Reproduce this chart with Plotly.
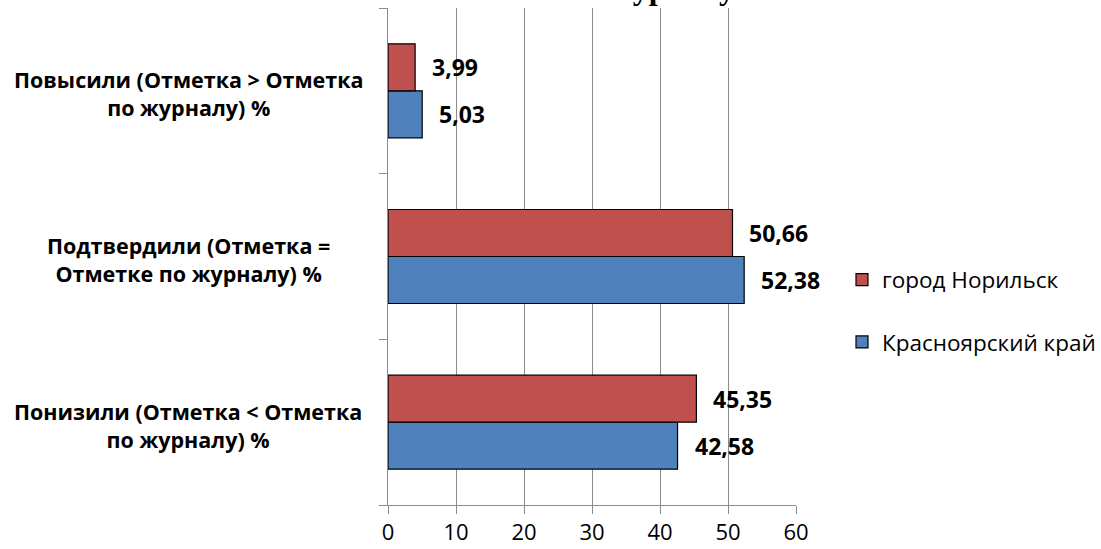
import plotly.graph_objects as go

# Categories listed bottom-to-top as they appear on the axis
categories = [
    "Понизили (Отметка < Отметка<br>по журналу) %",
    "Подтвердили (Отметка =<br>Отметке по журналу) %",
    "Повысили (Отметка > Отметка<br>по журналу) %",
]
series_names = ["Красноярский край", "город Норильск"]
kray_values = [42.58, 52.38, 5.03]
norilsk_values = [45.35, 50.66, 3.99]
x_ticks = [0, 10, 20, 30, 40, 50, 60]
title_text = "по журналу"

colors = {"Красноярский край": "#4F81BD", "город Норильск": "#C0504D"}
series_values = {"Красноярский край": kray_values, "город Норильск": norilsk_values}
legend_rank = {"Красноярский край": 2, "город Норильск": 1}

W, H = 1101, 549
L, R, T, B = 388, 305, 8, 44
plot_w = W - L - R
plot_h = H - T - B
bar_px = 47  # thickness of one bar in pixels

fig = go.Figure()
for name in series_names:
    fig.add_trace(go.Bar(
        y=categories,
        x=series_values[name],
        name=name,
        orientation="h",
        legendgroup=name,
        legendrank=legend_rank[name],
        marker=dict(color=colors[name], line=dict(color="#000000", width=1.2)),
        hoverinfo="x+name",
    ))

annotations = []
# value labels to the right of each bar
for idx, name in enumerate(series_names):
    shift = -bar_px / 2 if idx == 0 else bar_px / 2
    for cat, v in zip(categories, series_values[name]):
        annotations.append(dict(
            x=v, y=cat, xref="x", yref="y",
            text=f"{v:.2f}".replace(".", ","),
            showarrow=False, xanchor="left", yanchor="middle",
            xshift=15, yshift=shift,
            font=dict(family="Open Sans", size=23, color="#000000", weight="bold"),
        ))

# category labels, centred in the left margin
for cat in categories:
    annotations.append(dict(
        x=(188 - L) / plot_w, y=cat, xref="paper", yref="y",
        text=f"<b>{cat}</b>", showarrow=False,
        xanchor="center", yanchor="middle", align="center", yshift=-3,
        font=dict(family="Open Sans", size=21.5, color="#000000"),
    ))

# chart title (sits above the visible area)
annotations.append(dict(
    x=(737 - L) / plot_w, y=1, xref="paper", yref="paper",
    text=f"<b>{title_text}</b>", showarrow=False,
    xanchor="right", yanchor="bottom", yshift=0,
    font=dict(family="Liberation Serif", size=32, color="#000000"),
))

fig.update_layout(
    width=W, height=H,
    margin=dict(l=L, r=R, t=T, b=B, autoexpand=False),
    paper_bgcolor="#FFFFFF", plot_bgcolor="#FFFFFF",
    barmode="group", bargap=1 - 2 * bar_px / (plot_h / 3), bargroupgap=0,
    showlegend=True,
    legend=dict(
        x=(842 - L) / plot_w, xanchor="left",
        y=(H - B - 311) / plot_h, yanchor="middle",
        traceorder="grouped", tracegroupgap=30,
        font=dict(family="Open Sans", size=22.5, color="#000000"),
        bgcolor="rgba(0,0,0,0)",
    ),
    annotations=annotations,
)

fig.update_xaxes(
    range=[0, 60], tickvals=x_ticks, ticktext=[str(t) for t in x_ticks],
    showgrid=True, gridcolor="#8C8C8C", gridwidth=1,
    showline=True, linecolor="#8C8C8C", linewidth=1,
    ticks="outside", ticklen=8, tickcolor="#8C8C8C",
    tickfont=dict(family="Open Sans", size=22, color="#000000"),
    zeroline=False, fixedrange=True,
)
fig.update_yaxes(
    type="category", categoryorder="array", categoryarray=categories,
    showticklabels=False, tickson="boundaries",
    ticks="outside", ticklen=8, tickcolor="#8C8C8C",
    showline=True, linecolor="#8C8C8C", linewidth=1,
    showgrid=False, zeroline=False, fixedrange=True,
)

fig.write_html("out.html")
